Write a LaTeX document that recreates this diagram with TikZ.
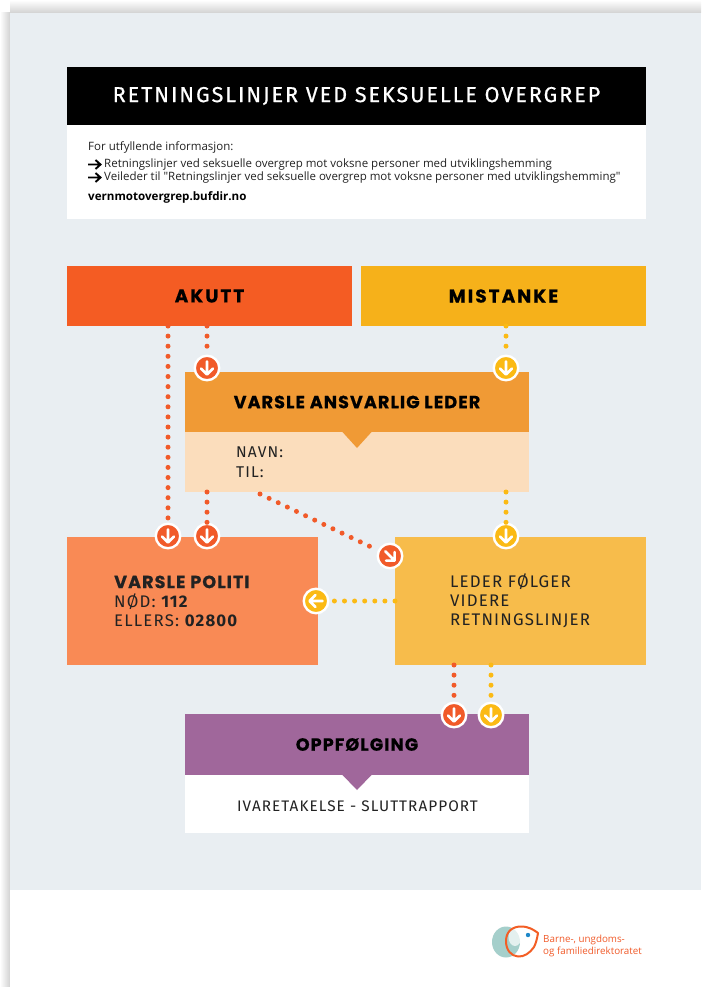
\documentclass[tikz,border=0pt]{standalone}
\usepackage{fontspec}
\setmainfont{Open Sans}
\newfontfamily\hdfont[LetterSpace=6,FakeBold=0.6]{Poppins}
\newfontfamily\hdwide[LetterSpace=11,FakeBold=0.6]{Poppins}
\newfontfamily\ttlfont[LetterSpace=9,FakeBold=0.5]{Fira Sans}
\newfontfamily\bodyfont[LetterSpace=7]{Fira Sans}
\newfontfamily\smfont{Open Sans}
\usetikzlibrary{calc}
\definecolor{panel}{HTML}{E9EEF2}
\definecolor{cred}{HTML}{F15A29}
\definecolor{cyel}{HTML}{FBBA14}
\definecolor{cak}{HTML}{F45C23}
\definecolor{cmi}{HTML}{F6B11A}
\definecolor{cva}{HTML}{F09A35}
\definecolor{cvb}{HTML}{FBDDBC}
\definecolor{cpo}{HTML}{F98A55}
\definecolor{cle}{HTML}{F7BC4B}
\definecolor{cop}{HTML}{A0679B}
\definecolor{inktxt}{HTML}{222222}
\definecolor{cteal}{HTML}{A5CFCB}
\definecolor{cblue}{HTML}{1E88C9}
\definecolor{shadow}{HTML}{D2D2D2}
\tikzset{
  box/.style={rectangle,inner sep=0pt,outer sep=0pt,text=black},
  head/.style={font=\hdfont\bfseries\fontsize{17.6}{20}\selectfont},
  headw/.style={font=\hdwide\bfseries\fontsize{18.5}{20}\selectfont},
  marker/.style={circle,draw=white,line width=2.4pt,minimum size=24.5pt,inner sep=0pt,outer sep=1.2pt},
  dotsr/.style={draw=cred,line width=5pt,line cap=round,dash pattern=on 0pt off 10.1pt},
  dotsy/.style={dotsr,draw=cyel},
  bodytxt/.style={anchor=west,inner sep=0pt,text=inktxt,font=\bodyfont\fontsize{16.8}{19}\selectfont,align=left},
  smalltxt/.style={anchor=west,inner sep=0pt,text=inktxt,font=\smfont\fontsize{11.5}{13}\selectfont},
  arrowmark/.style={white,line width=2.6pt,line cap=round,line join=round},
  listarrow/.style={black,line width=1.9pt,line join=miter}
}
\newcommand{\arrowmk}[4]{%
  \node[marker,fill=#3] (#1) at (#2) {};
  \begin{scope}[shift={(#1.center)},rotate=#4]
    \draw[arrowmark] (0,-6.5) -- (0,6) (-6,0.5) -- (0,6.5) -- (6,0.5);
  \end{scope}}
\newcommand{\listarrow}[1]{%
  \draw[listarrow,shift={(#1)}] (0,0) -- (12,0) (7.5,-4.5) -- (12.5,0) -- (7.5,4.5);}
\begin{document}
\begin{tikzpicture}[x=1pt,y=-1pt]
\useasboundingbox (0,0) rectangle (701,987);
\fill[white] (0,0) rectangle (701,987);
% sheet shadow
\shade[left color=white,right color=shadow] (0,13) rectangle (10,987);
\shade[top color=white,bottom color=shadow] (10,0) rectangle (701,13);
\fill[white] (10,890) rectangle (701,987);
\fill[panel] (10,13) rectangle (701,890);
% header
\node[box,fill=black,minimum width=579pt,minimum height=58pt,text=white,
  font=\ttlfont\fontsize{21.6}{24}\selectfont] (title) at (356.5,96) {RETNINGSLINJER VED SEKSUELLE OVERGREP};
\node[box,fill=white,minimum width=579pt,minimum height=94pt] (info) at (356.5,172) {};
\node[smalltxt,font=\smfont\fontsize{11.5}{12}\selectfont] (t1) at (88,147) {For utfyllende informasjon:};
\listarrow{88,164.5}
\node[smalltxt] (t2) at (104,165) {Retningslinjer ved seksuelle overgrep mot voksne personer med utviklingshemming};
\listarrow{88,177.5}
\node[smalltxt] (t3) at (104,178) {Veileder til "Retningslinjer ved seksuelle overgrep mot voksne personer med utviklingshemming"};
\node[smalltxt,font=\smfont\bfseries\fontsize{11.6}{13}\selectfont,text=black] (t4) at (88,197) {vernmotovergrep.bufdir.no};
% boxes
\node[box,headw,fill=cak,minimum width=285pt,minimum height=60pt] (akutt) at (209.5,296) {\raisebox{-1pt}{AKUTT}};
\node[box,headw,fill=cmi,minimum width=285pt,minimum height=60pt] (mistanke) at (503.5,296) {\raisebox{-1pt}{MISTANKE}};
\node[box,head,fill=cva,minimum width=344pt,minimum height=60pt] (varsle) at (357,402) {\raisebox{-1pt}{VARSLE ANSVARLIG LEDER}};
\node[box,fill=cvb,minimum width=344pt,minimum height=60pt] (varsleb) at (357,462) {};
\fill[cva] (342,431.5) -- (372,431.5) -- (357,448) -- cycle;
\node[bodytxt,font=\bodyfont\fontsize{15.6}{20}\selectfont] (navn) at (236,462) {NAVN:\\TIL:};
\node[box,fill=cpo,minimum width=251pt,minimum height=128pt] (politi) at (192.5,601) {};
\node[bodytxt] (politit) at (114,601) {{\hdfont\bfseries\fontsize{17.6}{19}\selectfont VARSLE POLITI}\\NØD: {\bfseries 112}\\ELLERS: {\bfseries 02800}};
\node[box,fill=cle,minimum width=251pt,minimum height=128pt] (leder) at (520.5,601) {};
\node[bodytxt] (ledert) at (450,601) {LEDER FØLGER\\VIDERE\\RETNINGSLINJER};
\node[box,head,fill=cop,minimum width=344pt,minimum height=61pt] (oppf) at (357,744.5) {\raisebox{-1pt}{OPPFØLGING}};
\node[box,fill=white,minimum width=344pt,minimum height=58pt] (oppfb) at (357,804) {};
\fill[cop] (342,774.5) -- (372,774.5) -- (357,790) -- cycle;
\node[bodytxt,font=\bodyfont\fontsize{15.3}{16}\selectfont,anchor=center] (ivare) at (357.5,806) {IVARETAKELSE - SLUTTRAPPORT};
% markers
\arrowmk{m1}{207,368}{cred}{0}
\arrowmk{m2}{506,368}{cyel}{0}
\arrowmk{m3}{168,536}{cred}{0}
\arrowmk{m4}{207,536}{cred}{0}
\arrowmk{m5}{390,556}{cred}{45}
\arrowmk{m6}{506,536}{cyel}{0}
\arrowmk{m7}{316,601}{cyel}{-90}
\arrowmk{m8}{454,715}{cred}{0}
\arrowmk{m9}{491,715}{cyel}{0}
% connectors
\coordinate (v5) at (260,494);
\draw[dotsr] (akutt.south -| m3) -- (m3);
\draw[dotsr] (akutt.south -| m1) -- (m1);
\draw[dotsy] (mistanke.south -| m2) -- (m2);
\draw[dotsr] (varsleb.south -| m4) -- (m4);
\draw[dotsr] (v5) -- (m5);
\draw[dotsy] (varsleb.south -| m6) -- (m6);
\draw[dotsy] (leder.west |- m7) -- (m7);
\draw[dotsr] (leder.south -| m8) -- (m8);
\draw[dotsy] (leder.south -| m9) -- (m9);
% logo
\fill[cteal] (506,942) ellipse (14 and 15.5);
\fill[white,opacity=.7] (515,937) ellipse (6.5 and 9);
\draw[cred!90!orange,line width=2pt,line join=round]
  (506,941) .. controls (506,931) and (513,926.5) .. (521,926.5)
  .. controls (529,926.5) and (534,930) .. (538,933)
  .. controls (537,939) and (536,943) .. (534,947)
  .. controls (530,953) and (524,957) .. (518,956.5)
  .. controls (511,956) and (506,950) .. (506,941) -- cycle;
\fill[cblue] (528,935) circle (2.2);
\node[anchor=west,inner sep=0pt,text=cred,align=left,font=\smfont\fontsize{9.8}{12}\selectfont] (logo) at (543,946) {Barne-, ungdoms-\\og familiedirektoratet};
\end{tikzpicture}
\end{document}
